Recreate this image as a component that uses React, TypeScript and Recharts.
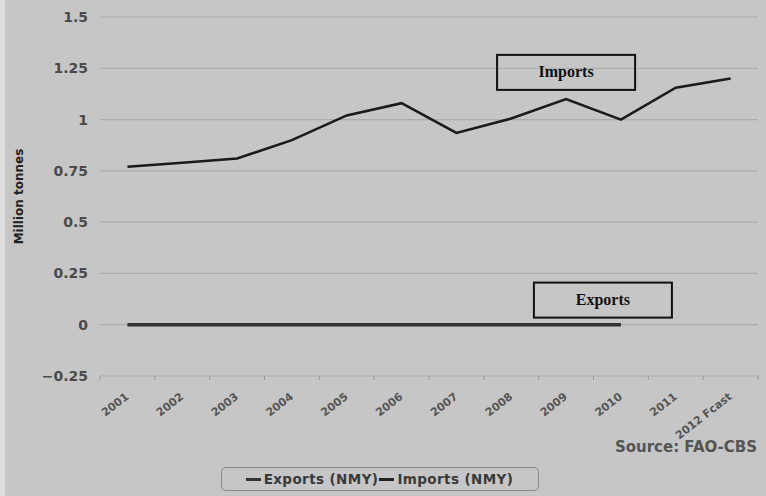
import {
  LineChart,
  Line,
  XAxis,
  YAxis,
  CartesianGrid,
  Legend,
  ReferenceDot,
} from "recharts";

const years = [
  "2001", "2002", "2003", "2004", "2005", "2006",
  "2007", "2008", "2009", "2010", "2011", "2012 Fcast",
];
const importsNMY = [0.77, 0.79, 0.81, 0.9, 1.02, 1.08, 0.935, 1.005, 1.1, 1.0, 1.155, 1.2];
const exportsNMY: (number | null)[] = [0, 0, 0, 0, 0, 0, 0, 0, 0, 0, null, null];
const yTicks = [-0.25, 0, 0.25, 0.5, 0.75, 1, 1.25, 1.5];

const data = years.map((year, i) => ({
  year,
  exports: exportsNMY[i],
  imports: importsNMY[i],
}));

const BG = "#c6c6c6";
const SANS = "DejaVu Sans";
const CHART_W = 761;
const MARGIN = { top: 17, right: 8, left: -5, bottom: 5 };
const Y_W = 100;
const HALF_BAND = (CHART_W - MARGIN.left - MARGIN.right - Y_W) / years.length / 2;

// eslint-disable-next-line @typescript-eslint/no-explicit-any
const XTick = (props: any) => {
  const { x, y, payload, index } = props;
  return (
    <g>
      <line x1={x - HALF_BAND} y1={y} x2={x - HALF_BAND} y2={y + 4} stroke="#999" />
      {index === years.length - 1 && (
        <line x1={x + HALF_BAND} y1={y} x2={x + HALF_BAND} y2={y + 4} stroke="#999" />
      )}
      <g transform={`translate(${x + 2},${y + 22})`}>
        <text
          x={0}
          y={0}
          textAnchor="end"
          transform="rotate(-38)"
          fill="#555"
          fontSize={11}
          fontWeight="bold"
          fontFamily={SANS}
        >
          {payload.value}
        </text>
      </g>
    </g>
  );
};

// eslint-disable-next-line @typescript-eslint/no-explicit-any
const noteBox = (text: string, dx: number) => (p: any) => {
  const { cx, cy } = p;
  return (
    <g>
      <rect
        x={cx + dx - 69}
        y={cy - 17.5}
        width={138}
        height={35}
        fill="none"
        stroke="#111"
        strokeWidth={2}
      />
      <text
        x={cx + dx}
        y={cy + 5}
        textAnchor="middle"
        fontFamily="Liberation Serif"
        fontWeight="bold"
        fontSize={16}
        fill="#111"
      >
        {text}
      </text>
    </g>
  );
};

const renderLegend = () => (
  <div style={{ display: "flex", justifyContent: "center" }}>
    <div
      style={{
        boxSizing: "border-box",
        height: 24,
        width: 318,
        marginLeft: -12,
        border: "1.5px solid #8a8a8a",
        borderRadius: 5,
        display: "flex",
        alignItems: "center",
        justifyContent: "center",
        fontFamily: SANS,
        fontWeight: "bold",
        fontSize: 13.5,
        letterSpacing: 0.4,
        color: "#3a3a3a",
        whiteSpace: "nowrap",
      }}
    >
      <span style={{ display: "inline-block", width: 15, height: 3, background: "#333", marginRight: 3 }} />
      Exports (NMY)
      <span style={{ display: "inline-block", width: 15, height: 3, background: "#222", margin: "0 3px 0 1px" }} />
      Imports (NMY)
    </div>
  </div>
);

export default function App() {
  return (
    <div
      style={{
        position: "absolute",
        left: 0,
        top: 0,
        width: 766,
        height: 496,
        background: BG,
        borderLeft: "5px solid #dedede",
        boxSizing: "border-box",
        fontFamily: SANS,
      }}
    >
      <LineChart width={CHART_W} height={496} data={data} margin={MARGIN}>
        <CartesianGrid vertical={false} stroke="#adadad" strokeWidth={1.2} />
        <XAxis
          dataKey="year"
          axisLine={false}
          tickLine={false}
          tickSize={0}
          tickMargin={0}
          interval={0}
          height={91}
          padding={{ left: HALF_BAND, right: HALF_BAND }}
          tick={<XTick />}
          label={{
            content: (p: any) => {
              const vb = p.viewBox;
              return (
                <text
                  x={vb.x + vb.width - 1}
                  y={vb.y + 76}
                  textAnchor="end"
                  fill="#555"
                  fontSize={15}
                  fontWeight="bold"
                  fontFamily={SANS}
                >
                  Source: FAO-CBS
                </text>
              );
            },
          }}
        />
        <YAxis
          type="number"
          domain={[-0.25, 1.5]}
          ticks={yTicks}
          width={Y_W}
          axisLine={false}
          tickLine={false}
          tickSize={0}
          tickMargin={12}
          tick={{ fill: "#4a4a4a", fontSize: 14, fontWeight: "bold", fontFamily: SANS }}
          tickFormatter={(v: number) => (v < 0 ? "\u2212" + String(-v) : String(v))}
          label={{
            content: (p: any) => {
              const vb = p.viewBox;
              const cx = 18;
              const cy = vb.y + vb.height / 2;
              return (
                <text
                  x={cx}
                  y={cy}
                  textAnchor="middle"
                  transform={`rotate(-90,${cx},${cy})`}
                  fill="#222"
                  fontSize={12}
                  fontWeight="bold"
                  fontFamily={SANS}
                >
                  Million tonnes
                </text>
              );
            },
          }}
        />
        <Legend
          verticalAlign="bottom"
          content={renderLegend}
          wrapperStyle={{ left: 0, width: CHART_W, bottom: 5, height: 24 }}
        />
        <Line
          dataKey="exports"
          name="Exports (NMY)"
          stroke="#333"
          strokeWidth={3.5}
          dot={false}
          isAnimationActive={false}
        />
        <Line
          dataKey="imports"
          name="Imports (NMY)"
          stroke="#1a1a1a"
          strokeWidth={2.5}
          dot={false}
          isAnimationActive={false}
        />
        <ReferenceDot x="2009" y={1.23} shape={noteBox("Imports", 0)} />
        <ReferenceDot x="2010" y={0.12} shape={noteBox("Exports", -18)} />
      </LineChart>
    </div>
  );
}
